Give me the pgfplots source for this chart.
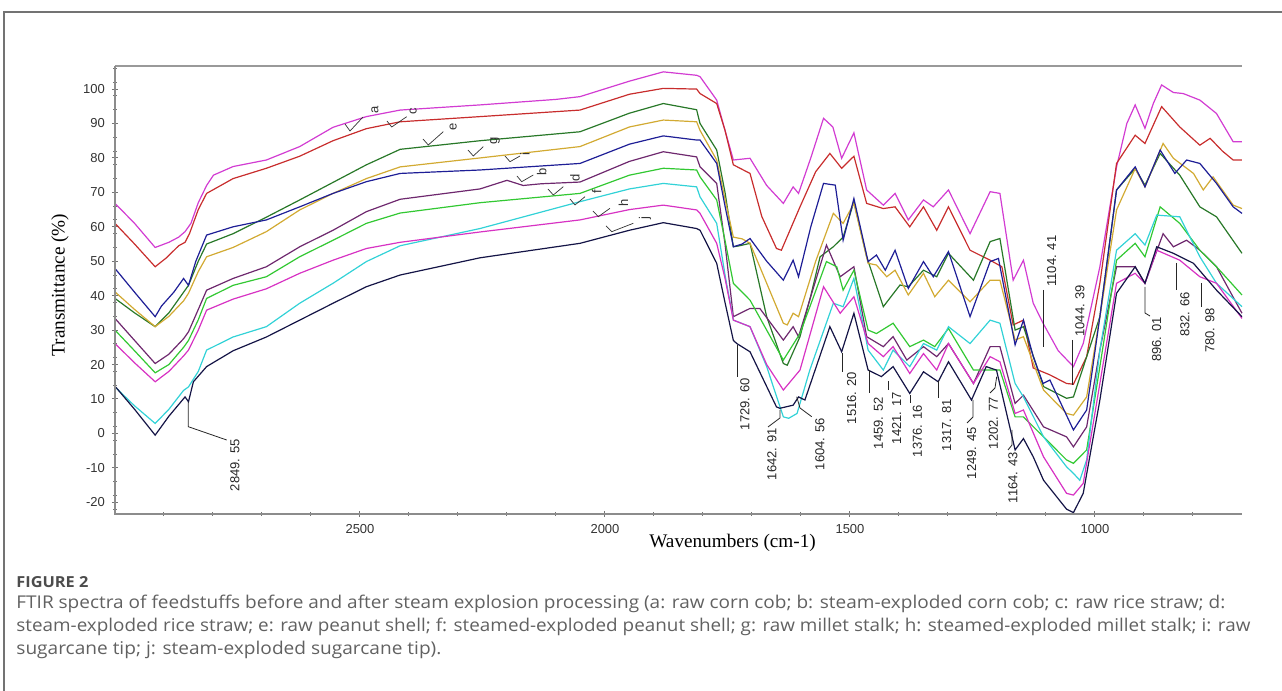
\documentclass[border=0pt]{standalone}
\usepackage{fontspec}
\setmainfont{Liberation Serif}
\newfontfamily\lsans{Liberation Sans}
\newfontfamily\capfont{Open Sans}
\usepackage{graphicx}
\usepackage{pgfplots}
\pgfplotsset{compat=1.18}
\definecolor{ca}{RGB}{210,60,210}
\definecolor{cc}{RGB}{200,45,45}
\definecolor{ce}{RGB}{40,120,40}
\definecolor{cg}{RGB}{210,170,50}
\definecolor{ci}{RGB}{30,30,150}
\definecolor{cb}{RGB}{110,40,110}
\definecolor{cd}{RGB}{50,200,50}
\definecolor{cf}{RGB}{50,210,215}
\definecolor{ch}{RGB}{215,50,195}
\definecolor{cj}{RGB}{20,20,70}
\newcommand\annfont{\lsans\fontsize{6.5}{7}\selectfont}
\begin{document}
\begin{tikzpicture}
\path[use as bounding box] (0,0) rectangle (641pt,345.5pt);
\begin{axis}[
  at={(57.5pt,88.5pt)}, anchor=south west,
  width=563.5pt, height=224pt, scale only axis,
  xmin=700, xmax=3000, x dir=reverse,
  ymin=-23.4, ymax=106.7,
  axis line style={draw=none},
  xtick={1000,1500,2000,2500},
  minor xtick={800,900,...,2900},
  ytick={-20,-10,...,100},
  minor ytick={-22,-18,...,106},
  xtick pos=left, ytick pos=left,
  tick align=center,
  major tick length=3pt, minor tick length=1.6pt,
  tick style={black!55, line width=0.5pt},
  ticklabel style={font=\lsans\fontsize{6.5}{7}\selectfont, text=black!80},
  /pgf/number format/assume math mode=true,
  /pgf/number format/1000 sep={},
  scaled ticks=false,
  xlabel={Wavenumbers (cm-1)},
  ylabel={Transmittance (\%)},
  xlabel style={at={(axis description cs:0.548,-0.0647)}, anchor=center, font=\fontsize{9.6}{11}\selectfont},
  ylabel style={at={(axis description cs:-0.0488,0.511)}, anchor=center, font=\fontsize{9.6}{11}\selectfont},
  every axis plot/.append style={line width=0.6pt, mark=none},
  clip=false,
]
% a: raw corn cob
\addplot[ca] coordinates {(3000,66.8)(2960,61)(2918,54)(2890,55.5)(2870,57)(2857,58.6)(2845,61)(2830,67)(2813,72)(2799,75)(2759,77.5)(2691,79.4)(2623,83.3)(2555,88.9)(2487,92)(2418,93.9)(2255,95.4)(2100,97)(2051,97.8)(1950,102.3)(1881,105)(1813,104)(1806,103.6)(1772,96.8)(1755,88)(1738,79.4)(1704,79.9)(1670,72)(1636,66.8)(1616,71.6)(1605,69.7)(1580,80)(1554,91.5)(1535,89)(1517,79.9)(1492,87.3)(1466,70.7)(1432,66.3)(1408,69.7)(1381,62)(1350,67.8)(1330,65.8)(1299,70.7)(1255,58)(1214,70.2)(1194,69.7)(1167,44.5)(1146,50.3)(1126,37.8)(1106,32)(1075,24)(1044,19.4)(1024,26.1)(990,48.4)(956,77.4)(935,90)(918,95.4)(898,88.6)(881,95.8)(864,101.2)(840,99)(820,98.7)(786,96.8)(752,92.9)(718,84.7)(700,84.7)};
% c: raw rice straw
\addplot[cc] coordinates {(3000,61)(2960,55)(2918,48.4)(2895,51)(2870,54.5)(2857,55.5)(2848,58)(2830,65)(2813,69.7)(2759,74)(2691,77)(2623,80.5)(2555,85)(2487,88.5)(2418,90.5)(2255,92)(2051,93.9)(1950,98.5)(1881,100.2)(1813,100)(1806,98.7)(1772,95.8)(1755,88)(1738,78)(1704,75.5)(1680,63)(1650,53.7)(1640,53.2)(1602,65.8)(1570,76)(1541,81.3)(1517,77)(1492,80.5)(1466,66.8)(1432,65.3)(1408,65.8)(1378,60)(1350,65.8)(1323,59)(1299,65.8)(1255,53.2)(1214,50.3)(1190,48.4)(1167,31.5)(1146,32.9)(1126,19)(1092,17)(1058,14.5)(1044,14.3)(1017,22.3)(990,43.6)(956,78.4)(918,86.6)(898,84.2)(864,94.9)(827,89)(786,83.7)(765,85.7)(740,82)(718,79.4)(700,79.4)};
% e: raw peanut shell
\addplot[ce] coordinates {(3000,39.2)(2960,35)(2918,31)(2890,35)(2865,40)(2850,43)(2830,50)(2813,55)(2759,58)(2691,62.8)(2623,67.8)(2555,72.9)(2487,78)(2418,82.5)(2255,85)(2051,87.6)(1950,93)(1881,95.8)(1813,94)(1806,90)(1772,82.3)(1755,70)(1738,54.2)(1725,54.5)(1704,55.2)(1670,33.9)(1636,20.3)(1628,19.8)(1602,28.1)(1580,40)(1561,51.3)(1534,54.2)(1514,57)(1492,67.3)(1466,51.3)(1432,36.8)(1398,43.1)(1381,42.6)(1350,47.4)(1323,45.5)(1299,52.3)(1248,44.5)(1214,55.7)(1194,56.6)(1163,30)(1146,31)(1105,13.6)(1058,10.2)(1044,10.6)(990,33.9)(956,70.7)(918,76.9)(898,72.1)(867,81.3)(827,75)(786,65.8)(752,62.9)(700,52.3)};
% g: raw millet stalk
\addplot[cg] coordinates {(3000,41.1)(2960,36)(2918,31)(2890,34)(2860,38.5)(2850,40.7)(2830,47)(2813,51.3)(2759,54)(2691,58.6)(2623,64.9)(2555,69.7)(2487,74)(2418,77.4)(2255,80)(2051,83.3)(1950,89)(1881,91)(1813,90.5)(1806,88)(1772,79.4)(1755,68)(1738,57)(1720,56.5)(1704,55.2)(1636,32)(1628,31.5)(1616,34.9)(1605,33.9)(1570,50)(1534,63.9)(1514,61)(1492,66.8)(1463,49.4)(1446,48.9)(1425,45.5)(1408,47.4)(1381,40.2)(1350,46.5)(1327,39.7)(1299,44.5)(1255,38.2)(1214,44.5)(1194,44.5)(1163,27.1)(1146,28.1)(1105,12.6)(1058,5.8)(1044,5.3)(1017,10.6)(990,33.9)(956,64.9)(918,76.9)(898,71.6)(861,84.2)(840,79.9)(799,75.5)(779,70.7)(759,74.5)(718,66.3)(700,65.3)};
% i: raw sugarcane tip
\addplot[ci] coordinates {(3000,47.9)(2960,41)(2918,33.9)(2905,37)(2880,41)(2860,45)(2850,43)(2835,50)(2813,57.6)(2759,60)(2691,62)(2623,65.8)(2555,69.7)(2487,73.1)(2418,75.5)(2255,76.5)(2051,78.4)(1950,84)(1881,86.4)(1813,85.2)(1806,85.2)(1772,78.4)(1755,66)(1738,54.2)(1720,55)(1704,56.6)(1670,50)(1636,44.5)(1616,50.3)(1605,45.5)(1580,60)(1554,72.6)(1530,72.1)(1514,56.1)(1492,68.2)(1463,49.9)(1446,51.8)(1428,47.4)(1408,53.2)(1381,42.1)(1350,49.9)(1330,45.5)(1299,52.8)(1255,33.9)(1214,49.9)(1197,50.8)(1163,25.7)(1146,32.9)(1126,22.3)(1106,14.5)(1092,15.5)(1044,1)(1017,6.8)(990,33.9)(956,70.7)(918,77.4)(898,71.6)(867,82.3)(837,75.5)(813,79.4)(786,78.4)(752,72.6)(718,65.8)(700,63.9)};
% b: steam-exploded corn cob
\addplot[cb] coordinates {(3000,33.4)(2960,27)(2918,20.3)(2890,23)(2860,27.5)(2850,29.5)(2830,36)(2813,41.6)(2759,45)(2691,48.4)(2623,54.2)(2555,59)(2487,64.4)(2418,68)(2255,71)(2200,73.5)(2167,72)(2130,72.5)(2051,73)(1950,79)(1881,81.8)(1813,80.3)(1806,77.4)(1772,72.6)(1755,55)(1738,33.9)(1704,36.3)(1684,36.3)(1636,27.1)(1616,31)(1605,28.1)(1548,54.7)(1520,45.5)(1492,48.4)(1466,28.1)(1432,25.2)(1412,28.1)(1384,21.3)(1350,25.2)(1323,22.3)(1299,26.1)(1248,14.5)(1214,25.2)(1194,25.2)(1163,8.7)(1146,11.1)(1105,1.9)(1058,-1)(1044,-3.9)(1017,1.9)(990,24.2)(956,48.4)(918,48.4)(898,43.6)(861,58)(840,54.2)(813,56.1)(786,53.2)(752,48.4)(700,34.9)};
% d: steam-exploded rice straw
\addplot[cd] coordinates {(3000,30)(2960,24)(2918,17.6)(2890,20)(2860,25)(2850,27)(2830,33)(2813,39.2)(2759,43)(2691,45.5)(2623,51.3)(2555,56.1)(2487,61)(2418,64)(2255,67)(2051,69.7)(1950,75)(1881,77)(1813,76.5)(1806,74.5)(1772,67.8)(1755,56)(1738,43.6)(1704,38.7)(1670,30)(1636,21.3)(1602,29)(1548,49.9)(1527,48.4)(1514,41.6)(1492,47.4)(1463,30)(1446,29)(1412,32)(1378,25.2)(1350,27.1)(1327,25.2)(1299,30.5)(1248,18.4)(1214,18.4)(1194,18.4)(1163,4.8)(1146,4.8)(1105,-1)(1058,-7.7)(1044,-8.7)(1017,-4.8)(990,19.4)(956,50.3)(918,55.2)(898,51.3)(867,65.8)(827,61)(786,53.2)(752,48.4)(700,40.2)};
% f: steamed-exploded peanut shell
\addplot[cf] coordinates {(3000,13.5)(2960,8)(2918,2.9)(2890,7)(2860,12.5)(2850,13.5)(2830,18)(2813,24.2)(2759,28)(2691,31)(2623,37.8)(2555,43.6)(2487,49.9)(2418,54.5)(2255,59.5)(2051,67.3)(1950,71)(1881,72.6)(1813,71.6)(1806,68.7)(1772,61)(1755,46)(1738,32.9)(1704,31)(1670,19.4)(1636,4.8)(1625,4.4)(1608,5.8)(1582,18.4)(1534,37.8)(1514,36.8)(1492,45)(1463,24.2)(1432,18.4)(1412,24.2)(1378,19.4)(1350,26.1)(1323,24.2)(1299,31)(1255,26.1)(1214,32.9)(1194,32)(1163,14.5)(1146,10.6)(1105,-1)(1058,-9.7)(1044,-11.6)(1031,-13.6)(1017,-7.7)(990,24.2)(956,53.2)(918,58)(898,54.7)(874,63.4)(827,62.9)(786,51.3)(752,43.6)(700,36.8)};
% h: steamed-exploded millet stalk
\addplot[ch] coordinates {(3000,26.1)(2960,20.5)(2918,15)(2890,18)(2860,22.5)(2850,24.2)(2830,30)(2813,35.8)(2759,39)(2691,42)(2623,46.5)(2555,50.3)(2487,53.7)(2418,55.5)(2255,58.5)(2051,62)(1950,65)(1881,66.3)(1813,64.9)(1806,63.9)(1772,55.2)(1755,45)(1738,32.9)(1704,31)(1670,20)(1636,12.6)(1602,18.4)(1554,42.6)(1520,34.9)(1492,39.7)(1463,26.1)(1432,22.3)(1412,25.2)(1378,17.4)(1350,23.2)(1323,18.4)(1299,26.1)(1248,14.5)(1214,22.3)(1194,20.8)(1163,5.8)(1146,6.8)(1105,-6.8)(1058,-17.4)(1044,-17.9)(1024,-14.5)(990,14.5)(956,43.6)(918,46.5)(898,43.6)(874,53.2)(827,50.3)(786,45.5)(752,43.6)(700,33.4)};
% j: steam-exploded sugarcane tip
\addplot[cj] coordinates {(3000,13.7)(2960,7)(2918,-0.5)(2890,5)(2857,10.6)(2850,9.2)(2840,15)(2813,19.4)(2759,24)(2691,28)(2623,32.9)(2555,37.8)(2487,42.6)(2418,46)(2255,51)(2051,55.2)(1950,59)(1881,61.2)(1813,59.5)(1806,59)(1772,49.4)(1755,38)(1738,27)(1731,26.1)(1704,23.7)(1650,7.7)(1643,7.3)(1616,8.2)(1605,10.6)(1592,9.7)(1541,31)(1517,23.7)(1492,34.9)(1463,18.4)(1436,16.5)(1412,19.4)(1378,11.6)(1350,17.9)(1320,15)(1299,20.8)(1252,9.7)(1222,19.4)(1201,18.4)(1163,-4.8)(1146,-1.5)(1126,-6.8)(1105,-13.6)(1058,-22)(1044,-23)(1024,-17.4)(990,9.7)(956,40.7)(918,48.4)(898,43.6)(874,54.2)(840,52.3)(799,49.4)(752,41.6)(700,33.9)};
\end{axis}
\begin{scope}[x=0.5pt,y=-0.5pt,shift={(0,345.5pt)}]
% axis frame lines
\draw[black!40, line width=0.8pt] (115,66) -- (1242,66);
\draw[black!45, line width=0.6pt] (115,66) -- (115,514) -- (1242,514);
% figure frame
\draw[black!55, line width=0.7pt] (4,691) -- (4,12) -- (1282,12);
% peak annotations
\begin{scope}[black!85, line width=0.4pt]
\draw (188.3,401.7) -- (188.3,426.7) -- (226.7,440);
\node[rotate=90,anchor=east,inner sep=0,font=\annfont] at (235,439) {2849. 55};
\draw (737.3,345) -- (737.3,376.7);
\node[rotate=90,anchor=east,inner sep=0,font=\annfont] at (745,378) {1729. 60};
\draw (780,410) -- (780,418) -- (768,427);
\node[rotate=90,anchor=east,inner sep=0,font=\annfont] at (772,428) {1642. 91};
\draw (796.7,396.7) -- (800,408) -- (811.7,416.7);
\node[rotate=90,anchor=east,inner sep=0,font=\annfont] at (820,418) {1604. 56};
\draw (842.7,353) -- (842.7,372);
\node[rotate=90,anchor=east,inner sep=0,font=\annfont] at (851.7,372) {1516. 20};
\draw (869.3,370) -- (869.3,393);
\node[rotate=90,anchor=east,inner sep=0,font=\annfont] at (878.3,397) {1459. 52};
\draw (888.3,381) -- (888.3,390);
\node[rotate=90,anchor=east,inner sep=0,font=\annfont] at (896.7,392) {1421. 17};
\draw (910,395) -- (910,403);
\node[rotate=90,anchor=east,inner sep=0,font=\annfont] at (917.3,405) {1376. 16};
\draw (938.3,381) -- (938.3,398);
\node[rotate=90,anchor=east,inner sep=0,font=\annfont] at (946.7,399) {1317. 81};
\draw (973,400) -- (973,417) -- (967,423);
\node[rotate=90,anchor=east,inner sep=0,font=\annfont] at (971.7,427) {1249. 45};
\draw (996.7,376.7) -- (995,388) -- (990,393);
\node[rotate=90,anchor=east,inner sep=0,font=\annfont] at (993.3,397) {1202. 77};
\draw (1012,430) -- (1012,445) -- (1008,450);
\node[rotate=90,anchor=east,inner sep=0,font=\annfont] at (1013,452) {1164. 43};
\draw (1043.3,290) -- (1043.3,346.7);
\node[rotate=90,anchor=west,inner sep=0,font=\annfont] at (1051.7,287) {1104. 41};
\draw (1072.7,340) -- (1072.7,385);
\node[rotate=90,anchor=west,inner sep=0,font=\annfont] at (1080,337) {1044. 39};
\draw (1145,287) -- (1145,313) -- (1150,316);
\node[rotate=90,anchor=east,inner sep=0,font=\annfont] at (1156.7,317) {896. 01};
\draw (1176,263) -- (1176,290);
\node[rotate=90,anchor=east,inner sep=0,font=\annfont] at (1185,292) {832. 66};
\draw (1201.7,283) -- (1201.7,307);
\node[rotate=90,anchor=east,inner sep=0,font=\annfont] at (1210,308) {780. 98};
\end{scope}
% curve labels
\begin{scope}[black!80, line width=0.35pt]
\draw (345,124) -- (350,131) -- (363,117);  \node[rotate=90,inner sep=0,font=\annfont] at (375,110) {a};
\draw (387,121) -- (391.7,127) -- (406.7,116.7); \node[rotate=90,inner sep=0,font=\annfont] at (413.3,111.7) {c};
\draw (423,139) -- (428.3,145) -- (443.3,131.7); \node[rotate=90,inner sep=0,font=\annfont] at (453.3,126.7) {e};
\draw (468,150) -- (473.3,156) -- (483.3,146.7); \node[rotate=90,inner sep=0,font=\annfont] at (495,140.7) {g};
\draw (505,156) -- (510,161.7) -- (520,156); \node[rotate=90,inner sep=0,font=\annfont] at (525,154) {i};
\draw (517,176) -- (521.7,181.7) -- (533.3,175); \node[rotate=90,inner sep=0,font=\annfont] at (541.7,171.7) {b};
\draw (548,189) -- (553.3,195) -- (563.3,186.7); \node[rotate=90,inner sep=0,font=\annfont] at (575,178.3) {d};
\draw (570,199) -- (575,205) -- (585,196.7); \node[rotate=90,inner sep=0,font=\annfont] at (596.7,191.7) {f};
\draw (593,211) -- (598.3,216.7) -- (610,208.3); \node[rotate=90,inner sep=0,font=\annfont] at (623.3,203.3) {h};
\draw (606,226) -- (611.7,231.7) -- (633.3,223.3); \node[rotate=90,inner sep=0,font=\annfont] at (645,218.3) {j};
\end{scope}
% caption
\node[anchor=base west,inner sep=0,text=black!70] at (16,588) {\resizebox{36pt}{\height}{\capfont\bfseries\fontsize{7.6}{8}\selectfont FIGURE 2}};
\node[anchor=base west,inner sep=0,text=black!62] at (16,609) {\resizebox{604.5pt}{\height}{\capfont\fontsize{8.8}{9}\selectfont FTIR spectra of feedstuffs before and after steam explosion processing (a: raw corn cob; b: steam-exploded corn cob; c: raw rice straw; d:}};
\node[anchor=base west,inner sep=0,text=black!62] at (16,632) {\resizebox{617pt}{\height}{\capfont\fontsize{8.8}{9}\selectfont steam-exploded rice straw; e: raw peanut shell; f: steamed-exploded peanut shell; g: raw millet stalk; h: steamed-exploded millet stalk; i: raw}};
\node[anchor=base west,inner sep=0,text=black!62] at (16,655) {\resizebox{212.5pt}{\height}{\capfont\fontsize{8.8}{9}\selectfont sugarcane tip; j: steam-exploded sugarcane tip).}};
\end{scope}
\end{tikzpicture}
\end{document}
